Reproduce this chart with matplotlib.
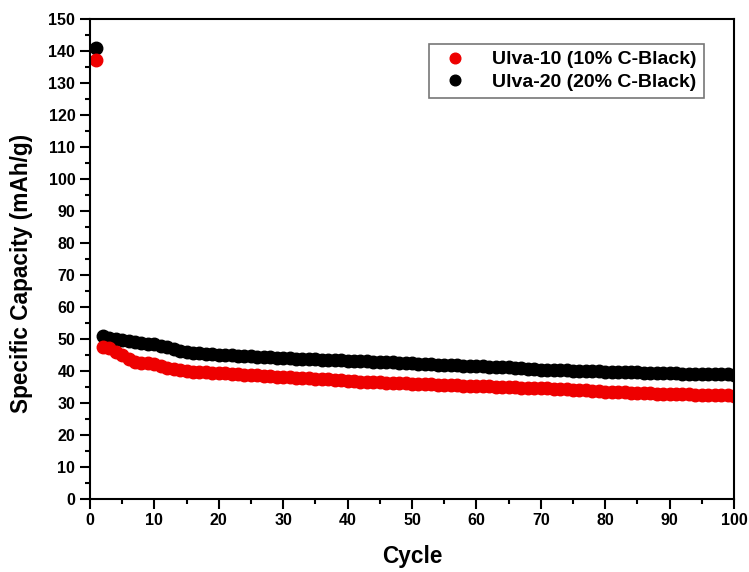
import numpy as np
import matplotlib.pyplot as plt
from matplotlib.ticker import MultipleLocator

plt.rcParams['font.family'] = ['Liberation Sans', 'DejaVu Sans']

cycles = list(range(1, 101))

# Ulva-10 (10% C-Black)
ulva10 = [137.0,
          47.5, 47.0, 46.0, 45.0, 43.6, 42.8, 42.5, 42.3, 42.0,
          41.6, 41.0, 40.6, 40.2, 39.9, 39.7, 39.6, 39.5, 39.4, 39.3,
          39.2, 39.0, 38.9, 38.8, 38.7, 38.6, 38.5, 38.4, 38.2, 38.1,
          38.0, 37.9, 37.8, 37.7, 37.5, 37.4, 37.3, 37.1, 37.0, 36.8,
          36.7, 36.6, 36.6, 36.5, 36.4, 36.3, 36.3, 36.2, 36.1, 36.0,
          35.9, 35.8, 35.8, 35.7, 35.6, 35.5, 35.5, 35.4, 35.3, 35.2,
          35.1, 35.1, 35.0, 34.9, 34.9, 34.8, 34.7, 34.7, 34.6, 34.5,
          34.5, 34.4, 34.3, 34.2, 34.1, 34.0, 33.9, 33.8, 33.7, 33.5,
          33.4, 33.3, 33.3, 33.2, 33.1, 33.0, 33.0, 32.9, 32.9, 32.8,
          32.7, 32.7, 32.6, 32.5, 32.5, 32.4, 32.4, 32.3, 32.3, 32.2]

# Ulva-20 (20% C-Black)
ulva20 = [141.0,
          51.0, 50.4, 50.0, 49.7, 49.3, 49.0, 48.7, 48.5, 48.3,
          47.9, 47.4, 46.7, 46.1, 45.8, 45.6, 45.5, 45.4, 45.2, 45.0,
          44.9, 44.8, 44.7, 44.6, 44.5, 44.4, 44.3, 44.2, 44.1, 44.0,
          43.9, 43.8, 43.8, 43.7, 43.6, 43.5, 43.4, 43.4, 43.3, 43.2,
          43.1, 43.0, 43.0, 42.9, 42.8, 42.7, 42.6, 42.5, 42.4, 42.3,
          42.2, 42.1, 42.0, 41.9, 41.8, 41.7, 41.7, 41.6, 41.5, 41.5,
          41.4, 41.3, 41.2, 41.2, 41.1, 41.0, 40.8, 40.6, 40.5, 40.4,
          40.3, 40.2, 40.1, 40.1, 40.0, 39.9, 39.9, 39.8, 39.8, 39.7,
          39.7, 39.6, 39.6, 39.5, 39.5, 39.4, 39.4, 39.3, 39.3, 39.2,
          39.2, 39.1, 39.1, 39.0, 39.0, 39.0, 38.9, 38.9, 38.9, 38.8]

fig = plt.figure(figsize=(7.49, 5.72), dpi=100)
ax = fig.add_axes([0.120, 0.128, 0.860, 0.839])

# black first so the red sits on top, like the original
h20, = ax.plot(cycles, ulva20, 'o', color='black', markersize=9, label='Ulva-20 (20% C-Black)')
h10, = ax.plot(cycles, ulva10, 'o', color='#ee0000', markersize=9, label='Ulva-10 (10% C-Black)')

ax.set_xlim(0, 100)
ax.set_ylim(0, 150)
ax.xaxis.set_major_locator(MultipleLocator(10))
ax.xaxis.set_minor_locator(MultipleLocator(5))
ax.yaxis.set_major_locator(MultipleLocator(10))
ax.yaxis.set_minor_locator(MultipleLocator(5))
ax.tick_params(which='major', direction='out', length=7, width=1.5, labelsize=11.5)
ax.tick_params(which='minor', direction='out', length=3.5, width=1.5)
for lab in ax.get_xticklabels() + ax.get_yticklabels():
    lab.set_fontweight('bold')
for s in ax.spines.values():
    s.set_linewidth(1.5)

ax.set_xlabel('Cycle', fontsize=16.3, fontweight='bold', labelpad=12)
ax.set_ylabel('Specific Capacity (mAh/g)', fontsize=16.3, fontweight='bold')
ax.yaxis.set_label_coords(-0.088, 0.47)

leg = ax.legend(handles=[h10, h20], loc='upper right', bbox_to_anchor=(0.968, 0.968),
                prop={'weight': 'bold', 'size': 14}, frameon=True, fancybox=False,
                edgecolor='#555555', markerscale=0.85, handletextpad=0.9,
                borderpad=0.35, labelspacing=0.25)
leg.get_frame().set_linewidth(1.2)

plt.savefig('out.png', dpi=100)
